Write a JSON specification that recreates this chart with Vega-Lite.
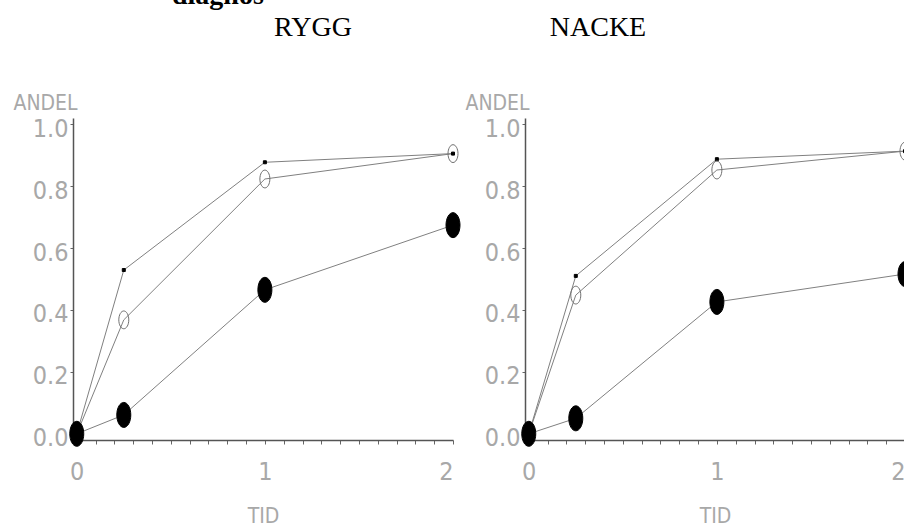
{
  "$schema": "https://vega.github.io/schema/vega-lite/v6.json",
  "padding": {"left": 13, "top": -18, "right": -8, "bottom": 0},
  "bounds": "flush",
  "spacing": 72,
  "title": {"text": "diagnos", "font": "Liberation Serif", "fontSize": 28, "fontWeight": "bold", "anchor": "start", "dx": 159, "offset": 4, "color": "black"},
  "data": {"values": [
    {"panel": "RYGG", "serie": "A", "tid": 0, "andel": 0},
    {"panel": "RYGG", "serie": "A", "tid": 0.25, "andel": 0.529},
    {"panel": "RYGG", "serie": "A", "tid": 1, "andel": 0.877},
    {"panel": "RYGG", "serie": "A", "tid": 2, "andel": 0.905},
    {"panel": "RYGG", "serie": "B", "tid": 0, "andel": 0},
    {"panel": "RYGG", "serie": "B", "tid": 0.25, "andel": 0.368},
    {"panel": "RYGG", "serie": "B", "tid": 1, "andel": 0.823},
    {"panel": "RYGG", "serie": "B", "tid": 2, "andel": 0.905},
    {"panel": "RYGG", "serie": "C", "tid": 0, "andel": 0},
    {"panel": "RYGG", "serie": "C", "tid": 0.25, "andel": 0.061},
    {"panel": "RYGG", "serie": "C", "tid": 1, "andel": 0.465},
    {"panel": "RYGG", "serie": "C", "tid": 2, "andel": 0.674},
    {"panel": "NACKE", "serie": "A", "tid": 0, "andel": 0},
    {"panel": "NACKE", "serie": "A", "tid": 0.25, "andel": 0.51},
    {"panel": "NACKE", "serie": "A", "tid": 1, "andel": 0.887},
    {"panel": "NACKE", "serie": "A", "tid": 2, "andel": 0.913},
    {"panel": "NACKE", "serie": "B", "tid": 0, "andel": 0},
    {"panel": "NACKE", "serie": "B", "tid": 0.25, "andel": 0.448},
    {"panel": "NACKE", "serie": "B", "tid": 1, "andel": 0.852},
    {"panel": "NACKE", "serie": "B", "tid": 2, "andel": 0.913},
    {"panel": "NACKE", "serie": "C", "tid": 0, "andel": 0},
    {"panel": "NACKE", "serie": "C", "tid": 0.25, "andel": 0.05},
    {"panel": "NACKE", "serie": "C", "tid": 1, "andel": 0.426},
    {"panel": "NACKE", "serie": "C", "tid": 2, "andel": 0.516}
  ]},
  "hconcat": [
    {
      "title": {"text": "RYGG", "dx": 50},
      "width": 380, "height": 322,
      "transform": [{"filter": "datum.panel === 'RYGG'"}],
      "encoding": {
        "x": {"field": "tid", "type": "quantitative", "scale": {"domain": [-0.02, 2], "nice": false, "zero": false}, "title": "TID",
              "axis": {"values": [0,0.1,0.2,0.3,0.4,0.5,0.6,0.7,0.8,0.9,1,1.1,1.2,1.3,1.4,1.5,1.6,1.7,1.8,1.9,2], "labelExpr": "abs(datum.value - round(datum.value)) < 0.001 ? format(datum.value, 'd') : ''"}},
        "y": {"field": "andel", "type": "quantitative", "scale": {"domain": [-0.02, 1.02], "nice": false, "zero": false}, "title": "ANDEL",
              "axis": {"values": [0, 0.2, 0.4, 0.6, 0.8, 1], "format": ".1f"}}
      },
      "layer": [
        {"mark": {"type": "line", "color": "#808080", "strokeWidth": 1},
         "encoding": {"detail": {"field": "serie"}}},
        {"mark": {"type": "point", "filled": true, "opacity": 1, "strokeWidth": 1},
         "encoding": {
           "shape": {"field": "serie", "scale": {"domain": ["A", "B", "C"], "range": ["square", "M0,-1A0.56,1,0,1,1,0,1A0.56,1,0,1,1,0,-1Z", "M0,-1A0.56,1,0,1,1,0,1A0.56,1,0,1,1,0,-1Z"]}, "legend": null},
           "size": {"field": "serie", "scale": {"domain": ["A", "B", "C"], "range": [9, 625, 625]}, "legend": null},
           "fill": {"field": "serie", "scale": {"domain": ["A", "B", "C"], "range": ["black", "transparent", "black"]}, "legend": null},
           "stroke": {"field": "serie", "scale": {"domain": ["A", "B", "C"], "range": ["black", "#707070", "black"]}, "legend": null}
         }}
      ]
    },
    {
      "title": {"text": "NACKE", "dx": -117},
      "width": 380, "height": 322,
      "transform": [{"filter": "datum.panel === 'NACKE'"}],
      "encoding": {
        "x": {"field": "tid", "type": "quantitative", "scale": {"domain": [-0.02, 2], "nice": false, "zero": false}, "title": "TID",
              "axis": {"values": [0,0.1,0.2,0.3,0.4,0.5,0.6,0.7,0.8,0.9,1,1.1,1.2,1.3,1.4,1.5,1.6,1.7,1.8,1.9,2], "labelExpr": "abs(datum.value - round(datum.value)) < 0.001 ? format(datum.value, 'd') : ''"}},
        "y": {"field": "andel", "type": "quantitative", "scale": {"domain": [-0.02, 1.02], "nice": false, "zero": false}, "title": "ANDEL",
              "axis": {"values": [0, 0.2, 0.4, 0.6, 0.8, 1], "format": ".1f"}}
      },
      "layer": [
        {"mark": {"type": "line", "color": "#808080", "strokeWidth": 1},
         "encoding": {"detail": {"field": "serie"}}},
        {"mark": {"type": "point", "filled": true, "opacity": 1, "strokeWidth": 1},
         "encoding": {
           "shape": {"field": "serie", "scale": {"domain": ["A", "B", "C"], "range": ["square", "M0,-1A0.56,1,0,1,1,0,1A0.56,1,0,1,1,0,-1Z", "M0,-1A0.56,1,0,1,1,0,1A0.56,1,0,1,1,0,-1Z"]}, "legend": null},
           "size": {"field": "serie", "scale": {"domain": ["A", "B", "C"], "range": [9, 625, 625]}, "legend": null},
           "fill": {"field": "serie", "scale": {"domain": ["A", "B", "C"], "range": ["black", "transparent", "black"]}, "legend": null},
           "stroke": {"field": "serie", "scale": {"domain": ["A", "B", "C"], "range": ["black", "#707070", "black"]}, "legend": null}
         }}
      ]
    }
  ],
  "config": {
    "view": {"stroke": null},
    "title": {"font": "Liberation Serif", "fontSize": 28, "fontWeight": "normal", "color": "black", "offset": 50},
    "axis": {"grid": false, "labelFont": "DejaVu Sans Condensed, Roboto Condensed, DejaVu Sans", "labelFontSize": 25, "labelColor": "#a8a8a8", "titleFont": "DejaVu Sans Condensed, Roboto Condensed, DejaVu Sans", "titleFontSize": 21, "titleColor": "#a8a8a8", "titleFontWeight": "normal", "domainColor": "#555555", "domainWidth": 1.5, "tickColor": "#666666", "tickSize": 4},
    "axisX": {"labelPadding": 15, "titlePadding": 21, "labelFlush": true, "labelOverlap": false, "labelBound": false},
    "axisY": {"tickSize": 3, "labelPadding": 2, "labelOffset": 4, "titleAngle": 0, "titleX": -60, "titleY": -9, "titleAlign": "left", "titleBaseline": "alphabetic"}
  }
}
